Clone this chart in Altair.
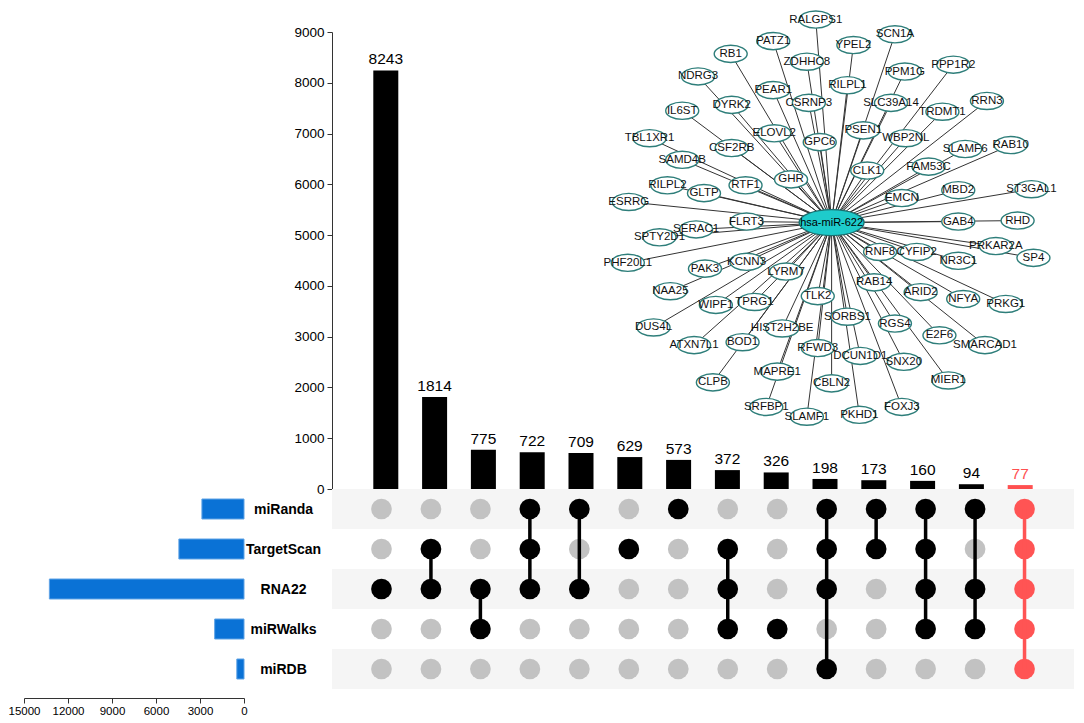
import altair as alt
import pandas as pd

# ---------------- data ----------------
sets = ["miRanda", "TargetScan", "RNA22", "miRWalks", "miRDB"]
set_sizes = [2870, 4440, 13270, 2000, 490]

inter_counts = [8243, 1814, 775, 722, 709, 629, 573, 372, 326, 198, 173, 160, 94, 77]
inter_members = [
    ["RNA22"],
    ["TargetScan", "RNA22"],
    ["RNA22", "miRWalks"],
    ["miRanda", "TargetScan", "RNA22"],
    ["miRanda", "RNA22"],
    ["TargetScan"],
    ["miRanda"],
    ["TargetScan", "RNA22", "miRWalks"],
    ["miRWalks"],
    ["miRanda", "TargetScan", "RNA22", "miRDB"],
    ["miRanda", "TargetScan"],
    ["miRanda", "TargetScan", "RNA22", "miRWalks"],
    ["miRanda", "RNA22", "miRWalks"],
    ["miRanda", "TargetScan", "RNA22", "miRWalks", "miRDB"],
]
highlighted = [False] * 13 + [True]

top_ticks = [0, 1000, 2000, 3000, 4000, 5000, 6000, 7000, 8000, 9000]
size_ticks = [0, 3000, 6000, 9000, 12000, 15000]

hub_name = "hsa-miR-622"
genes = [
    "RALGPS1", "PATZ1", "SCN1A", "YPEL2", "RB1", "ZDHHC8", "PPP1R2", "PPM1G",
    "NDRG3", "PEAR1", "RILPL1", "CSRNP3", "SLC39A14", "DYRK2", "RRN3", "IL6ST",
    "TRDMT1", "PSEN1", "ELOVL2", "TBL1XR1", "WBP2NL", "GPC6", "CSF2RB", "SLAMF6",
    "RAB10", "SAMD4B", "CLK1", "FAM53C", "GHR", "RTF1", "RILPL2", "GLTP", "MBD2",
    "EMCN", "ST3GAL1", "ESRRG", "FLRT3", "GAB4", "RHD", "SERAC1", "SPTY2D1",
    "PRKAR2A", "SP4", "RNF8", "CYFIP2", "NR3C1", "PHF20L1", "KCNN3", "PAK3",
    "LYRM7", "RAB14", "NAA25", "ARID2", "NFYA", "PRKG1", "TLK2", "WIPF1", "TPRG1",
    "SORBS1", "RGS4", "DUS4L", "HIST2H2BE", "BOD1", "ATXN7L1", "E2F6", "SMARCAD1",
    "RFWD3", "DCUN1D1", "SNX20", "MAPRE1", "MIER1", "CLPB", "CBLN2", "SRFBP1",
    "FOXJ3", "PKHD1", "SLAMF1",
]
# network layout coordinates (hub at 0,0)
gene_x = [
    -16, -59, 64, 22, -102, -25, 123, 74,
    -135, -59, 16, -23, 60, -101, 157, -151,
    112, 32, -58, -184, 75, -12, -101, 135,
    181, -151, 36, 98, -41, -87, -166, -129, 128,
    71, 202, -205, -86, 128, 188, -137, -174,
    166, 204, 49, 86, 128, -206, -86, -128,
    -46, 43, -163, 90, 133, 176, -14, -117, -78,
    16, 64, -180, -50, -90, -139, 109, 155,
    -14, 29, 73, -55, 118, -120, 0, -66,
    71, 28, -25,
]
gene_y = [
    207, 185, 192, 181, 172, 164, 161, 154,
    149, 135, 140, 122, 122, 120, 124, 114,
    113, 94, 91, 86, 86, 82, 76, 75,
    79, 64, 53, 57, 44, 38, 38, 30, 33,
    25, 34, 21, 1, 1, 2, -7, -15,
    -24, -36, -30, -30, -39, -41, -40, -47,
    -50, -61, -70, -71, -78, -83, -75, -84, -81,
    -96, -103, -107, -108, -122, -125, -115, -125,
    -128, -136, -142, -152, -161, -163, -164, -188,
    -188, -196, -198,
]

# ---------------- layout constants ----------------
W_LEFT = 220
W_MAIN = 742
H_TOP = 457
H_MAT = 200
FONT = "Liberation Sans"
NET_FONT = "Liberation Sans Narrow, Arial Narrow, Liberation Sans"

# ---------------- tables ----------------
grp = ["hl" if h else "normal" for h in highlighted]
top_df = pd.DataFrame({
    "col": list(range(1, len(inter_counts) + 1)),
    "count": inter_counts,
    "grp": grp,
})

dot_rows = []
rule_rows = []
for i, (mem, h) in enumerate(zip(inter_members, highlighted)):
    col = i + 1
    for r, s in enumerate(sets):
        if h:
            state = "hl"
        elif s in mem:
            state = "on"
        else:
            state = "off"
        dot_rows.append({"col": col, "row": r + 0.5, "state": state})
    idx = [sets.index(m) for m in mem]
    if len(idx) > 1:
        rule_rows.append({"col": col, "r1": min(idx) + 0.5, "r2": max(idx) + 0.5,
                          "state": "hl" if h else "on"})
dots_df = pd.DataFrame(dot_rows)
rules_df = pd.DataFrame(rule_rows)
stripe_df = pd.DataFrame({"r1": [0, 2, 4], "r2": [1, 3, 5], "x1": [0, 0, 0], "x2": [15, 15, 15]})

size_df = pd.DataFrame({"set": sets, "size": set_sizes})

net_df = pd.DataFrame({"gene": genes, "x": gene_x, "y": gene_y, "x0": 0, "y0": 0})
hub_df = pd.DataFrame({"name": [hub_name], "x": [0], "y": [0]})

# ---------------- scales ----------------
col_scale = alt.Scale(domain=[0, 15], nice=False, zero=False)
row_scale = alt.Scale(domain=[0, 5], nice=False, zero=False, reverse=True)
state_scale = alt.Scale(domain=["off", "on", "hl"], range=["#C2C2C2", "#000000", "#FF5454"])

# ---------------- top intersection bars ----------------
count_axis = alt.Axis(values=top_ticks, format="d", title=None, grid=False, labelOverlap=False,
                      labelFontSize=13.5, labelColor="#000", labelFont=FONT,
                      tickSize=5, tickColor="#333", domainColor="#333", labelPadding=3)
count_scale = alt.Scale(domain=[0, 9000], nice=False)
bars = alt.Chart(top_df).mark_bar(size=25).encode(
    x=alt.X("col:Q", scale=col_scale, axis=None),
    y=alt.Y("count:Q", scale=count_scale, axis=count_axis),
    color=alt.Color("grp:N", scale=alt.Scale(domain=["normal", "hl"], range=["#000000", "#FF5050"]),
                    legend=None),
)
bar_text = alt.Chart(top_df).mark_text(dy=-6, baseline="alphabetic", fontSize=15.5, font=FONT).encode(
    x=alt.X("col:Q", scale=col_scale, axis=None),
    y=alt.Y("count:Q", scale=count_scale, axis=count_axis),
    text="count:Q",
    color=alt.Color("grp:N", scale=alt.Scale(domain=["normal", "hl"], range=["#000000", "#FF2020"]),
                    legend=None),
)

# ---------------- network inset ----------------
nx = alt.Scale(domain=[-505, 245], nice=False, zero=False)
ny = alt.Scale(domain=[-271.7, 194.3], nice=False, zero=False)
ELL = "M -1 0 A 1 0.52 0 1 1 1 0 A 1 0.52 0 1 1 -1 0 Z"
HUB_ELL = "M -1 0 A 1 0.4 0 1 1 1 0 A 1 0.4 0 1 1 -1 0 Z"

edges = alt.Chart(net_df).mark_rule(color="#333333", strokeWidth=1).encode(
    x=alt.X("x0:Q", scale=nx, axis=None), y=alt.Y("y0:Q", scale=ny, axis=None),
    x2="x:Q", y2="y:Q",
)
nodes = alt.Chart(net_df).mark_point(shape=ELL, size=33 * 33, filled=True, fill="white",
                                     stroke="#2E7E7A", strokeWidth=1.4, opacity=1).encode(
    x=alt.X("x:Q", scale=nx, axis=None), y=alt.Y("y:Q", scale=ny, axis=None),
)
node_text = alt.Chart(net_df).mark_text(fontSize=11.5, font=NET_FONT, color="#111").encode(
    x=alt.X("x:Q", scale=nx, axis=None), y=alt.Y("y:Q", scale=ny, axis=None),
    text="gene:N",
)
hub_node = alt.Chart(hub_df).mark_point(shape=HUB_ELL, size=65 * 65, filled=True, fill="#1ECBCB",
                                        stroke="#1B6E6E", strokeWidth=1.3, opacity=1).encode(
    x=alt.X("x:Q", scale=nx, axis=None), y=alt.Y("y:Q", scale=ny, axis=None),
)
hub_text = alt.Chart(hub_df).mark_text(fontSize=11, font=FONT, color="#000").encode(
    x=alt.X("x:Q", scale=nx, axis=None), y=alt.Y("y:Q", scale=ny, axis=None),
    text="name:N",
)

top = alt.layer(
    alt.layer(bars, bar_text),
    alt.layer(edges, nodes, node_text, hub_node, hub_text),
).resolve_scale(x="independent", y="independent", color="independent").properties(
    width=W_MAIN, height=H_TOP)

# ---------------- spacer ----------------
spacer = alt.Chart(pd.DataFrame({"a": [0]})).mark_point(opacity=0).encode(
    x=alt.X("a:Q", axis=None), y=alt.Y("a:Q", axis=None),
).properties(width=W_LEFT, height=H_TOP)

# ---------------- set size bars ----------------
left = alt.Chart(size_df).mark_bar(color="#0A72D6", stroke="#5FA3E6", strokeWidth=1).encode(
    x=alt.X("size:Q", scale=alt.Scale(domain=[0, 15000], reverse=True, nice=False),
            axis=alt.Axis(values=size_ticks, format="d", title=None, grid=False, orient="bottom",
                          labelOverlap=False, labelFlush=False, offset=9, labelFontSize=11.5,
                          labelColor="#000", labelFont=FONT, tickSize=5, tickColor="#333",
                          domainColor="#333", labelPadding=2)),
    y=alt.Y("set:N", sort=sets, scale=alt.Scale(paddingInner=0.5, paddingOuter=0.25), axis=None),
).properties(width=W_LEFT, height=H_MAT)

# ---------------- matrix ----------------
label_expr = "[" + ",".join("'" + s + "'" for s in sets) + "][floor(datum.value)]"
stripes = alt.Chart(stripe_df).mark_rect(color="#F5F5F5").encode(
    x=alt.X("x1:Q", scale=col_scale, axis=None), x2="x2:Q",
    y=alt.Y("r1:Q", scale=row_scale,
            axis=alt.Axis(values=[0.5, 1.5, 2.5, 3.5, 4.5], labelExpr=label_expr, title=None,
                          grid=False, domain=False, ticks=False, tickSize=0, labelOverlap=False,
                          labelAlign="center", labelBaseline="middle", labelPadding=49,
                          labelFontSize=14, labelFontWeight="bold", labelColor="#000",
                          labelFont=FONT)),
    y2="r2:Q",
)
dots = alt.Chart(dots_df).mark_circle(size=430, opacity=1).encode(
    x=alt.X("col:Q", scale=col_scale, axis=None),
    y=alt.Y("row:Q", scale=row_scale),
    color=alt.Color("state:N", scale=state_scale, legend=None),
)
links = alt.Chart(rules_df).mark_rule(strokeWidth=3.5).encode(
    x=alt.X("col:Q", scale=col_scale, axis=None),
    y=alt.Y("r1:Q", scale=row_scale), y2="r2:Q",
    color=alt.Color("state:N", scale=state_scale, legend=None),
)
matrix = alt.layer(stripes, dots, links).properties(width=W_MAIN, height=H_MAT)

chart = alt.ConcatChart(
    concat=[spacer, top, left, matrix],
    columns=2,
    spacing={"row": 0, "column": 88},
    bounds="flush",
).properties(padding=0).configure(font=FONT).configure_view(strokeWidth=0, stroke="transparent")

chart.save("out.html", embed_options={"renderer": "svg", "actions": False})
